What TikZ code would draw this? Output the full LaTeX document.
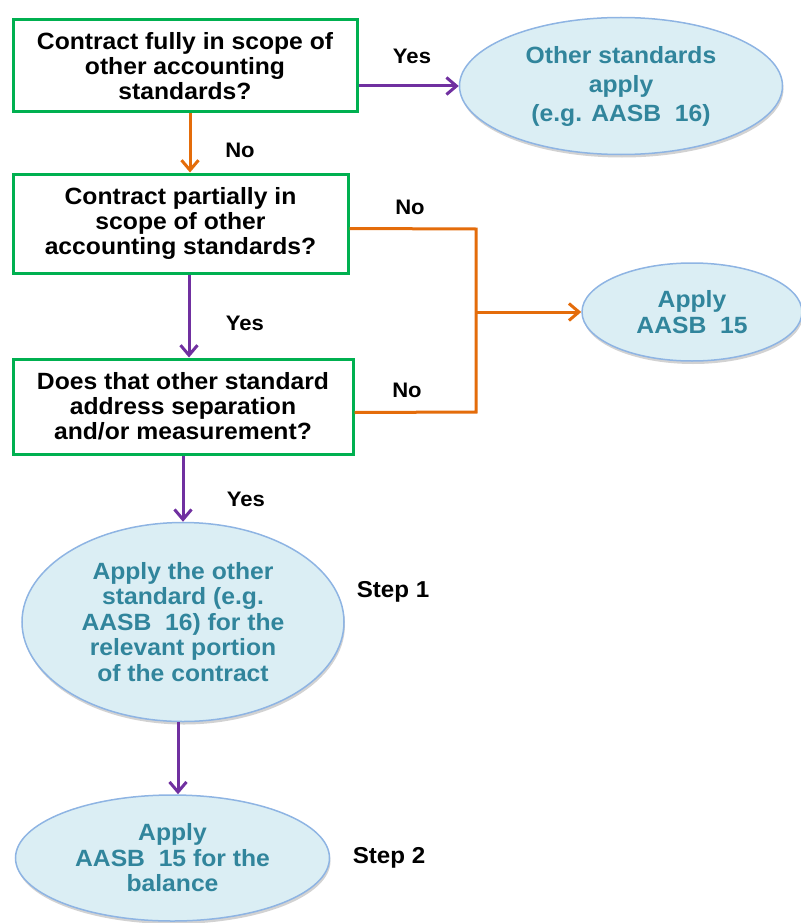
\documentclass[tikz,border=0pt]{standalone}
\usepackage{fontspec}
\setmainfont{Liberation Sans}[FakeStretch=1.05]
\usetikzlibrary{shapes.geometric,arrows.meta,shadows}
\definecolor{boxgreen}{HTML}{00B050}
\definecolor{arrorange}{HTML}{E46C0A}
\definecolor{arrpurple}{HTML}{7030A0}
\definecolor{ellfill}{HTML}{DBEEF4}
\definecolor{elldraw}{HTML}{8EB4E3}
\definecolor{elltext}{HTML}{31859C}
\begin{document}
\begin{tikzpicture}[x=1pt,y=-1pt,
  qbox/.style={draw=boxgreen,line width=3pt,rectangle,inner sep=0pt,align=center,
    font=\fontsize{23.5}{25}\selectfont\bfseries},
  oval/.style={ellipse,draw=elldraw,line width=1.5pt,fill=ellfill,inner sep=0pt,align=center,
    text=elltext,font=\fontsize{23.5}{25.5}\selectfont\bfseries,
    drop shadow={shadow xshift=1pt,shadow yshift=-3pt,opacity=0.25,fill=black!70}},
  lbl/.style={font=\fontsize{21}{22}\selectfont\bfseries,inner sep=0pt},
  steplbl/.style={font=\fontsize{23}{24}\selectfont\bfseries,inner sep=0pt},
  conn/.style={line width=3pt,>={Straight Barb[length=10pt,width=17pt]}},
  orng/.style={conn,draw=arrorange},
  purp/.style={conn,draw=arrpurple}]
\useasboundingbox (0,0) rectangle (800,923);

\node[qbox,minimum width=344,minimum height=92] (b1) at (185,66)
  {Contract fully in scope of\\other accounting\\standards?};
\node[qbox,minimum width=335,minimum height=99] (b2) at (180.5,223.5)
  {Contract partially in\\scope of other\\accounting standards?};
\node[qbox,minimum width=340,minimum height=95] (b3) at (183,406.5)
  {Does that other standard\\address separation\\and/or measurement?};

\node[oval,minimum width=323,minimum height=137,
      font=\fontsize{23.5}{29}\selectfont\bfseries] (e1) at (621,86)
  {Other standards\\apply\\(e.g. AASB\ \ 16)};
\node[oval,minimum width=220,minimum height=98] (e2) at (692,312)
  {Apply\\AASB\ \ 15};
\node[oval,minimum width=322,minimum height=199] (e3) at (183,622)
  {Apply\ the other\\standard (e.g.\\AASB\ \ 16) for the\\relevant portion\\of the contract};
\node[oval,minimum width=314,minimum height=126] (e4) at (172.5,858)
  {Apply\\AASB\ \ 15 for the\\balance};

% labels
\node[lbl] (l1) at (412,56) {Yes};
\node[lbl] (l2) at (240,150) {No};
\node[lbl] (l3) at (410,207) {No};
\node[lbl] (l4) at (245,323) {Yes};
\node[lbl] (l5) at (407,390) {No};
\node[lbl] (l6) at (246,499) {Yes};
\node[steplbl] (s1) at (393,592) {Step 1};
\node[steplbl] (s2) at (389,858) {Step 2};

% connectors
\draw[purp,->] (b1.east |- e1.west) -- (e1.west);
\draw[orng,->] ([xshift=5pt]b1.south) -- ([xshift=5pt]b1.south |- b2.north);
\coordinate (jt) at (476,229);
\coordinate (jb) at (476,412);
\draw[orng] ([yshift=-5pt]b2.east) -- (jt) -- (jb) -- ([yshift=-6pt]b3.east);
\draw[orng,->] (jt |- e2.west) -- (e2.west);
\draw[purp,->] ([xshift=6pt]b3.north |- b2.south) -- ([xshift=6pt]b3.north);
\draw[purp,->] (b3.south) -- (e3.north);
\draw[purp,->] ([xshift=5.5pt]e4.north |- e3.south) -- ([xshift=5.5pt]e4.north);
\end{tikzpicture}
\end{document}
